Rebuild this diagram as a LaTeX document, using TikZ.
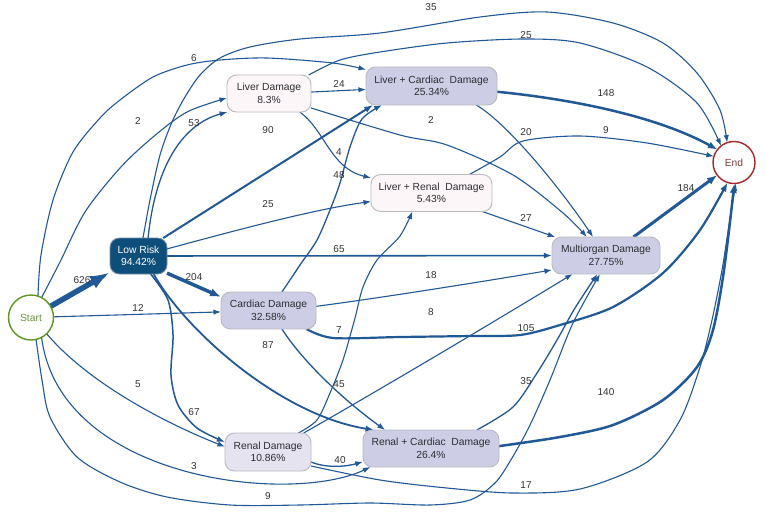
\documentclass[tikz,border=0pt]{standalone}
\usepackage{fontspec}
\setmainfont{Liberation Sans}
\usetikzlibrary{arrows.meta}
\pgfdeclarelayer{bg}
\pgfsetlayers{bg,main}
\definecolor{edgec}{RGB}{33,88,150}
\definecolor{lowc}{RGB}{14,78,122}
\definecolor{lowbd}{RGB}{110,140,170}
\definecolor{lavc}{RGB}{205,206,229}
\definecolor{pinkc}{RGB}{252,246,249}
\definecolor{renc}{RGB}{230,227,240}
\definecolor{bordc}{RGB}{185,185,192}
\definecolor{txtc}{RGB}{45,45,50}
\definecolor{labc}{RGB}{50,50,50}
\definecolor{startc}{RGB}{95,150,35}
\definecolor{starttx}{RGB}{110,145,65}
\definecolor{endc}{RGB}{165,40,40}
\definecolor{endtx}{RGB}{130,60,60}
\newcommand\myNodeFont{\fontsize{10.3}{12.6}\selectfont}
\newcommand\myLabFont{\fontsize{10}{12}\selectfont}
\begin{document}
\begin{tikzpicture}[x=1pt,y=-1pt,
  box/.style={rectangle, rounded corners=9.5pt, draw=bordc, line width=0.9pt, inner sep=0pt, outer sep=0pt, align=center, font=\myNodeFont, text=txtc},
  term/.style={circle, line width=1.4pt, fill=white, inner sep=0pt, outer sep=0pt, font=\myNodeFont},
  ed/.style={draw=edgec, line width=#1, -{Latex[length=6pt 1.4, width=4pt 1.3]}},
  ed/.default=1.1,
  lab/.style={font=\myLabFont, text=labc, inner sep=0pt}]
\useasboundingbox (0,0) rectangle (767,520);

% nodes
\node[term, draw=startc, text=starttx, minimum size=45pt] (st) at (31,317.5) {Start};
\node[term, draw=endc, text=endtx, minimum size=42pt] (en) at (734,162.5) {End};
\node[box, fill=lowc, draw=lowbd, text=white, minimum width=57pt, minimum height=36pt] (lr) at (138.5,256) {Low Risk\\94.42\%};
\node[box, fill=pinkc, minimum width=84pt, minimum height=37pt] (ld) at (269,93.5) {Liver Damage\\8.3\%};
\node[box, fill=lavc, minimum width=131pt, minimum height=38pt] (lc) at (431.5,86) {Liver + Cardiac\ \ Damage\\25.34\%};
\node[box, fill=pinkc, minimum width=121pt, minimum height=37pt] (lrn) at (431.5,193) {Liver + Renal\ \ Damage\\5.43\%};
\node[box, fill=lavc, minimum width=108pt, minimum height=37pt] (mo) at (606,255.5) {Multiorgan Damage\\27.75\%};
\node[box, fill=lavc, minimum width=95pt, minimum height=37pt] (cd) at (268.5,310.5) {Cardiac Damage\\32.58\%};
\node[box, fill=renc, minimum width=86pt, minimum height=38pt] (rd) at (268,452) {Renal Damage\\10.86\%};
\node[box, fill=lavc, minimum width=136pt, minimum height=37pt] (rc) at (431,448.5) {Renal + Cardiac\ \ Damage\\26.4\%};

\begin{pgfonlayer}{bg}
\fill[white] (0,0) rectangle (767,520);
% from Start
\draw[ed=5.5, -{Latex[length=20pt,width=14pt]}] (st) -- (lr);
\draw[ed] (st) -- (cd);
\draw[ed] plot[smooth] coordinates {(st.62) (60,262) (85,212) (120,168) (153,137) (187,112) (ld.186)};
\draw[ed] plot[smooth] coordinates {(st.72) (41,255) (53,200) (73,152) (100,118) (120,100) (153,77) (187,65) (220,60) (267,58) (333,63) (lc.166)};
\draw[ed] (st.-46) .. controls (90,385) and (170,425) .. (rd.173);
\draw[ed] (st.-62) .. controls (60,480) and (290,505) .. (rc.-163);
\draw[ed] plot[smooth] coordinates {(st.-77) (42,380) (50,417) (77,457) (120,482) (167,497) (230,505) (300,505) (370,503) (430,505) (470,500) (495,483) (512,458) (530,425) (550,380) (573,323) (mo.-108)};
% from Low Risk
\draw[ed=1.3] (lr.62) .. controls (155,170) and (180,125) .. (ld.-156);
\draw[ed] plot[smooth] coordinates {(lr.76) (150,200) (160,155) (172,122) (185,97) (200,75) (220,58) (250,47) (300,39) (380,33) (480,17) (547,12) (613,23) (663,43) (697,73) (720,110) (en.109)};
\draw[ed=2] (lr.36) -- (lc.-162);
\draw[ed] (lr.14) .. controls (230,232) and (310,210) .. (lrn.-172);
\draw[ed=1.6] (lr) -- (mo);
\draw[ed=3.5] (lr.-31) -- (cd.164);
\draw[ed=1.8] (lr.-50) .. controls (185,330) and (280,415) .. (rc.162);
\draw[ed=1.5] plot[smooth] coordinates {(lr.-56) (168,300) (173,335) (171,375) (178,405) (197,428) (rd.167)};
% from Liver Damage
\draw[ed] (ld.2) -- (lc.-177);
\draw[ed] plot[smooth] coordinates {(ld.25) (340,60) (380,52) (447,43) (523,39) (580,43) (647,67) (697,103) (en.128)};
\draw[ed] (ld.-31) .. controls (325,130) and (330,168) .. (lrn.166);
\draw[ed] plot[smooth] coordinates {(ld.-19) (400,135) (447,145) (513,175) (563,213) (mo.136)};
% from Liver + Cardiac
\draw[ed=2.5] (lc.-5) .. controls (580,100) and (660,118) .. (en.142);
\draw[ed] (lc.-23) .. controls (510,125) and (565,195) .. (mo.125);
% from Liver + Renal
\draw[ed] plot[smooth] coordinates {(lrn.26) (500,157) (523,141) (580,136) (647,143) (en.163)};
\draw[ed] (lrn.-20) -- (mo.160);
% from Multiorgan
\draw[ed=3] (mo.34) -- (en.-143);
% from Cardiac
\draw[ed=1.3] plot[smooth] coordinates {(cd.54) (300,265) (317,240) (330,210) (340,183) (350,147) (362,119) (lc.-159)};
\draw[ed] (cd.5) .. controls (380,298) and (480,282) .. (mo.-165);
\draw[ed=2.2] plot[smooth] coordinates {(cd.-26) (333,338) (400,337) (470,336) (520,335) (560,325) (613,307) (663,273) (700,230) (en.-108)};
\draw[ed=1.3] (cd.-54) .. controls (305,365) and (350,405) .. (rc.158);
% from Renal
\draw[ed] plot[smooth] coordinates {(rd.32) (317,420) (330,393) (343,360) (355,318) (363,287) (377,260) (400,236) (lrn.-136)};
\draw[ed] (rd.28) .. controls (400,378) and (500,318) .. (mo.-151);
\draw[ed=1.3] (rd.-13) .. controls (325,468) and (345,467) .. (rc.-169);
\draw[ed] plot[smooth] coordinates {(rd.-18) (380,480) (447,488) (513,493) (580,489) (647,462) (680,420) (700,367) (712,320) (722,270) (729,225) (en.-85)};
% from Renal + Cardiac
\draw[ed=2.5] plot[smooth] coordinates {(rc.2) (560,437) (613,425) (663,400) (697,367) (713,330) (724,270) (en.-89)};
\draw[ed=1.3] plot[smooth] coordinates {(rc.22) (513,407) (537,373) (557,340) (575,308) (mo.-115)};
\end{pgfonlayer}

% labels
\node[lab] (l626) at (82,280) {626};
\node[lab] (l12) at (138,308) {12};
\node[lab] (l2a) at (138,121) {2};
\node[lab] (l6) at (194,58) {6};
\node[lab] (l5) at (138,384) {5};
\node[lab] (l3) at (194,466) {3};
\node[lab] (l9a) at (268,496) {9};
\node[lab] (l53) at (194,123) {53};
\node[lab] (l35a) at (431,7) {35};
\node[lab] (l90) at (268,130) {90};
\node[lab] (l25a) at (268,204) {25};
\node[lab] (l65) at (339,249) {65};
\node[lab] (l204) at (194,277) {204};
\node[lab] (l87) at (268,345) {87};
\node[lab] (l67) at (194,412) {67};
\node[lab] (l24) at (339,84) {24};
\node[lab] (l25b) at (526,35) {25};
\node[lab] (l4) at (339,152) {4};
\node[lab] (l2b) at (431,120) {2};
\node[lab] (l148) at (606,93) {148};
\node[lab] (l20) at (526,132) {20};
\node[lab] (l9b) at (606,130) {9};
\node[lab] (l27) at (526,218) {27};
\node[lab] (l48) at (339,175) {48};
\node[lab] (l18) at (431,275) {18};
\node[lab] (l105) at (526,328) {105};
\node[lab] (l45) at (339,384) {45};
\node[lab] (l7) at (339,330) {7};
\node[lab] (l8) at (431,312) {8};
\node[lab] (l40) at (340,460) {40};
\node[lab] (l17) at (526,485) {17};
\node[lab] (l35b) at (526,381) {35};
\node[lab] (l140) at (606,392) {140};
\node[lab] (l184) at (686,188) {184};
\end{tikzpicture}
\end{document}
